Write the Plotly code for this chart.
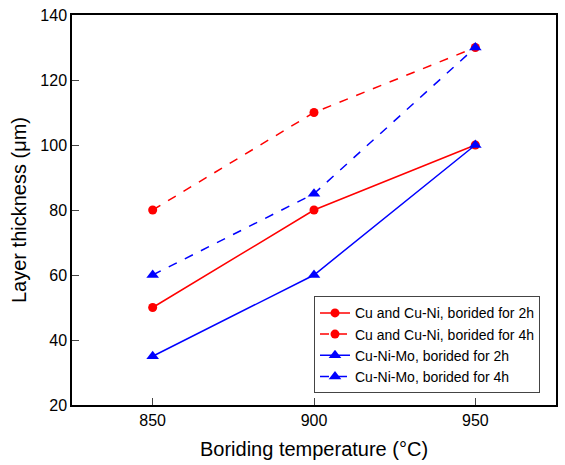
import plotly.graph_objects as go

temps = [850, 900, 950]
cu_2h = [50, 80, 100]
cu_4h = [80, 110, 130]
mo_2h = [35, 60, 100]
mo_4h = [60, 85, 130]

names = ["Cu and Cu-Ni, borided for 2h", "Cu and Cu-Ni, borided for 4h",
         "Cu-Ni-Mo, borided for 2h", "Cu-Ni-Mo, borided for 4h"]

fig = go.Figure()
series = [
    (cu_2h, "red", "solid", "circle", 9),
    (cu_4h, "red", "dash", "circle", 9),
    (mo_2h, "blue", "solid", "triangle-up", 11),
    (mo_4h, "blue", "dash", "triangle-up", 11),
]
for (vals, col, dash, sym, sz), nm in zip(series, names):
    fig.add_trace(go.Scatter(
        x=temps, y=vals, name=nm, mode="lines+markers",
        line=dict(color=col, width=1.5, dash=dash),
        marker=dict(symbol=sym, size=sz, color=col),
    ))

font = "Liberation Sans, Arial, sans-serif"
fig.update_layout(
    width=565, height=465,
    margin=dict(l=72, r=7, t=12, b=60),
    paper_bgcolor="white", plot_bgcolor="white",
    font=dict(family=font, color="black", size=16),
    showlegend=True,
    legend=dict(x=0.5, y=0.03, xanchor="left", yanchor="bottom",
                bordercolor="#444", borderwidth=1, bgcolor="white",
                font=dict(size=14, family=font), tracegroupgap=0,
                itemwidth=30),
)
fig.update_xaxes(
    range=[825, 975], tickvals=temps, ticks="inside", ticklen=7,
    showline=True, linecolor="black", linewidth=1.5, mirror=True,
    showgrid=False, zeroline=False,
    title=dict(text="Boriding temperature (°C)", font=dict(size=20), standoff=14),
    tickfont=dict(size=16),
)
fig.update_yaxes(
    range=[20, 140], tickvals=[20, 40, 60, 80, 100, 120, 140], ticks="inside", ticklen=7,
    showline=True, linecolor="black", linewidth=1.5, mirror=True,
    showgrid=False, zeroline=False,
    title=dict(text="Layer thickness (μm)", font=dict(size=20), standoff=8),
    tickfont=dict(size=16),
)
fig.write_html("out.html")
